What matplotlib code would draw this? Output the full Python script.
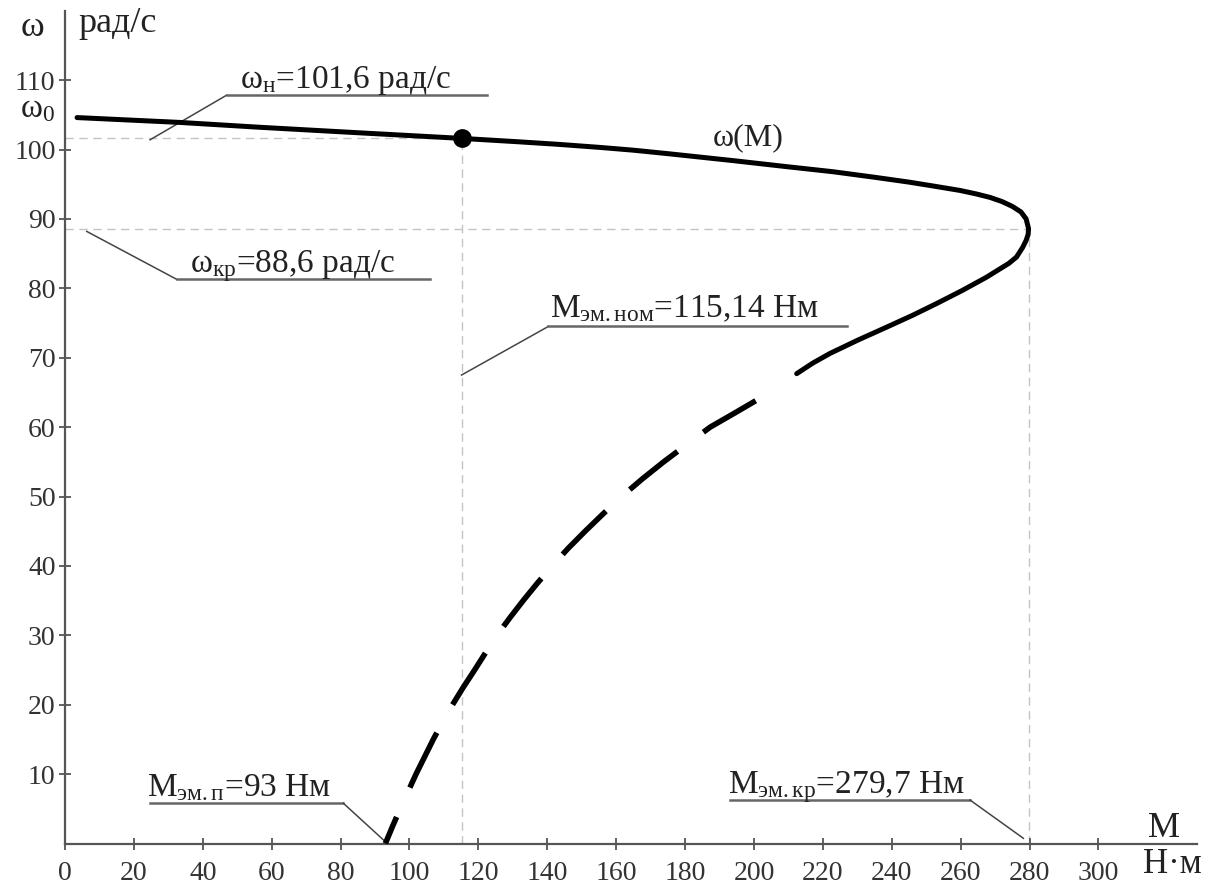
import matplotlib
matplotlib.use("Agg")
import matplotlib.pyplot as plt

plt.rcParams['font.family'] = ['Liberation Serif', 'DejaVu Serif']
plt.rcParams['mathtext.fontset'] = 'custom'
plt.rcParams['mathtext.rm'] = 'Liberation Serif'
plt.rcParams['mathtext.it'] = 'Liberation Serif:italic'

# ---- data ----
# solid (stable + part of unstable) branch, M [N*m], omega [rad/s]
M_solid = [3.5, 33.4, 56.6, 85.6, 115.14, 132.0, 143.0, 155.3, 165.0, 175.0,
           193.9, 210.0, 222.9, 235.0, 245.0, 252.5, 259.8, 264.5, 268.5, 272.0,
           275.0, 277.5, 279.0, 279.7, 279.6, 279.0, 278.0, 276.2, 274.0, 271.4,
           267.5, 260.5, 253.0, 246.0, 238.5, 230.0, 222.0, 217.0, 212.4]
w_solid = [104.6, 103.9, 103.2, 102.4, 101.6, 101.1, 100.75, 100.3, 99.9, 99.4,
           98.4, 97.5, 96.8, 96.0, 95.3, 94.7, 94.1, 93.6, 93.1, 92.5,
           91.8, 91.0, 90.0, 88.6, 87.8, 86.9, 85.9, 84.5, 83.6, 82.8,
           81.6, 79.7, 77.8, 76.1, 74.4, 72.5, 70.6, 69.2, 67.7]
# dashed branch
M_dash = [200.5, 194.3, 187.3, 180.5, 173.8, 167.5, 161.6, 156.2, 151.0, 146.0,
          141.4, 137.1, 133.0, 129.1, 125.4, 122.1, 118.9, 115.6, 112.5, 109.6,
          106.9, 104.4, 101.9, 99.6, 97.3, 95.1, 93.0]
w_dash = [63.8, 62.0, 60.0, 57.5, 55.0, 52.5, 50.0, 47.5, 45.0, 42.5,
          40.0, 37.5, 35.0, 32.5, 30.0, 27.5, 25.0, 22.5, 20.0, 17.5,
          15.0, 12.5, 10.0, 7.5, 5.0, 2.5, 0.0]

M_nom, w_nom = 115.14, 101.6
M_kr, w_kr = 279.7, 88.6
M_start = 93.0

x_ticks = list(range(0, 301, 20))
y_ticks = list(range(10, 111, 10))

# ---- figure ----
fig = plt.figure(figsize=(12.27, 8.88), dpi=100)
ax = fig.add_axes([65 / 1227, 44.5 / 888, 1132 / 1227, 832.8 / 888])
ax.set_xlim(0, 328.6)
ax.set_ylim(0, 120)

for s in ('top', 'right'):
    ax.spines[s].set_visible(False)
for s in ('left', 'bottom'):
    ax.spines[s].set_linewidth(1.6)
    ax.spines[s].set_color('#555555')

ax.set_xticks(x_ticks)
ax.set_yticks(y_ticks)
ax.set_xticklabels([str(v) for v in x_ticks])
ax.set_yticklabels([str(v) for v in y_ticks])
ax.tick_params(axis='both', direction='inout', length=8.6, width=1.3,
               color='#555555', labelcolor='#333333', labelsize=20)
ax.tick_params(axis='x', pad=8)
ax.tick_params(axis='y', pad=2.5)

guide = dict(color='#c4c4c4', lw=1.0, linestyle=(0, (6, 4)), zorder=1)
ax.plot([0, M_nom], [w_nom, w_nom], **guide)
ax.plot([M_nom, M_nom], [0, w_nom], **guide)
ax.plot([0, M_kr], [w_kr, w_kr], **guide)
ax.plot([M_kr, M_kr], [0, w_kr], **guide)

ax.plot(M_solid, w_solid, color='black', lw=3.6, solid_capstyle='round',
        solid_joinstyle='round', zorder=3)
ax.plot(M_dash, w_dash, color='black', lw=4.0, linestyle=(0, (11, 5.8)),
        dash_capstyle='butt', dash_joinstyle='round', zorder=3)
ax.plot([M_nom], [w_nom], 'o', color='black', ms=12.5, zorder=4)

txt = dict(fontsize=24, color='#222222', clip_on=False)
lead = dict(color='#444444', lw=1.1, clip_on=False, zorder=2)
under = dict(color='#666666', lw=1.8, clip_on=False, zorder=2)

# omega_n annotation
ax.plot([24.7, 47.0], [101.4, 107.85], **lead)
ax.plot([47.0, 122.5], [107.85, 107.85], **under)
ax.text(50.8, 108.9, r'$\mathrm{ω_{н}}$=101,6 рад/с', va='baseline', **txt)

# omega_kr annotation
ax.plot([6.3, 32.4], [88.2, 81.3], **lead)
ax.plot([32.4, 106.0], [81.3, 81.3], **under)
ax.text(36.3, 82.35, r'$\mathrm{ω_{кр}}$=88,6 рад/с', va='baseline', **txt)

# M nom annotation
ax.plot([115.1, 140.3], [67.5, 74.5], **lead)
ax.plot([140.3, 226.9], [74.5, 74.5], **under)
ax.text(140.8, 75.9, r'$\mathrm{M_{эм.ном}}$=115,14 Нм', va='baseline', **txt)

# M start annotation
ax.plot([24.7, 80.8], [5.8, 5.8], **under)
ax.plot([80.8, M_start], [5.8, 0.26], **lead)
ax.text(23.8, 6.85, r'$\mathrm{M_{эм.п}}$=93 Нм', va='baseline', **txt)

# M kr annotation
ax.plot([193.0, 262.7], [6.27, 6.27], **under)
ax.plot([262.7, 278.2], [6.27, 0.75], **lead)
ax.text(192.5, 7.3, r'$\mathrm{M_{эм.кр}}$=279,7 Нм', va='baseline', **txt)

# curve label
ax.text(188.1, 100.6, 'ω(M)', va='baseline', fontsize=23, color='#222222')

# axis labels
lab = dict(va='baseline', color='#222222', clip_on=False)
ax.text(-12.8, 116.3, 'ω', fontsize=26, **lab)
ax.text(3.8, 116.9, 'рад/с', fontsize=26, **lab)
ax.text(-13.2, 104.7, r'$\mathrm{ω_{0}}$', fontsize=24, **lab)
ax.text(314.5, 0.9, 'M', fontsize=26, **lab)
ax.text(313.0, -4.3, 'Н·м', fontsize=25, **lab)

fig.savefig('out.png', dpi=100)
